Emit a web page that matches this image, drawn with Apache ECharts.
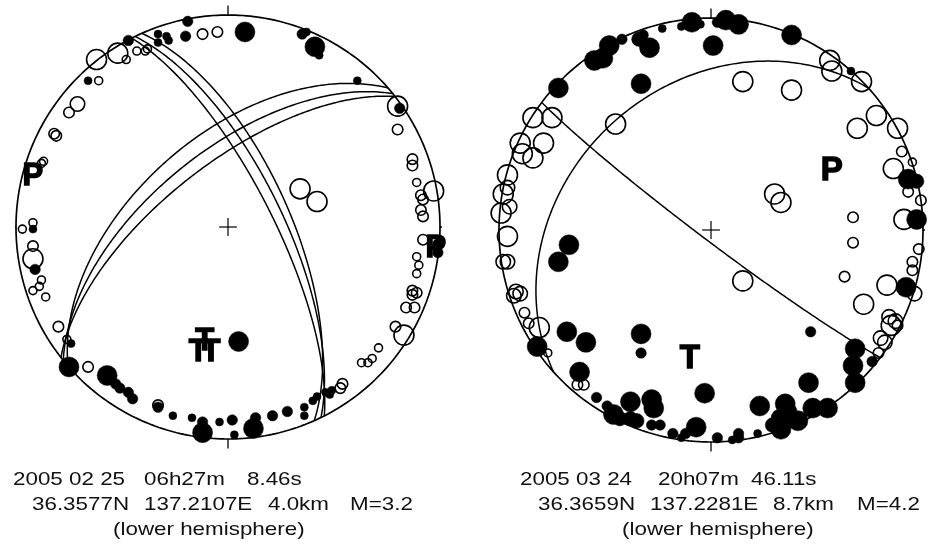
<!DOCTYPE html>
<html>
<head>
<meta charset="utf-8">
<script src="https://cdn.jsdelivr.net/npm/echarts@6/dist/echarts.min.js"></script>
<style>
  html, body { margin: 0; padding: 0; background: #ffffff; }
  #chart { width: 929px; height: 544px; }
</style>
</head>
<body>
<div id="chart"></div>
<script>
// ---- Event 1: 2005-02-25 (coordinates in a frame where the focal sphere radius = 100; x east, y north; third value = amplitude class)
const ev1Dilatation = [
  [-12,91,2],[-5,92,2],[-52,82,4],[-62,79,4],[-48,79,1],[-43,83,1],[-39,83,1],[-38,84,1],[-61,69,1],
  [-71,58,3],[-75,54,2],[-82,44,2],[-81,43,2],[-88,30,1],[-87,31,1],[-92,2,1],[-97,-1,1],[-92,-9,2],
  [-92,-15,4],[-88,-25,1],[-89,-28,1],[-92,-30,1],[-86,-33,1],[-80,-47,2],[-76,-53,1],[-66,-66,2],
  [-33,-84,2],[54,-74,2],[53,-76,2],[63,-64,1],[66,-64,1],[68,-62,1],[71,-57,1],[79,-47,2],[83,-51,4],
  [84,-38,2],[88,-38,2],[87,-30,2],[87,-32,2],[89,-31,2],[89,-22,1],[90,-18,1],[89,-14,1],[92,-6,2],
  [80,57,4],[80,46,2],[87,32,2],[87,29,2],[89,21,1],[97,17,4],[91,15,2],[92,13,2],[91,8,2],[92,5,2],
  [34,18,4],[42,12,4]
];
const ev1Compression = [
  [-19,97,2],[-33,91,1],[-29,90,1],[-28,88,1],[-33,87,1],[-20,90,2],[-47,88,2],[-66,69,1],[-92,-1,1],
  [-91,-20,2],[-74,-55,1],[-75,-66,4],[-57,-70,4],[-53,-74,2],[-51,-76,2],[-47,-78,2],[-45,-81,2],
  [-33,-85,2],[-26,-89,1],[-17,-90,1],[-12,-92,2],[-4,-92,1],[-12,-97,4],[2,-91,2],[3,-98,1],[12,-95,4],
  [13,-90,2],[21,-89,2],[28,-87,2],[36,-89,1],[36,-85,1],[40,-82,1],[42,-80,1],[46,-78,1],[49,-77,1],
  [48,-79,1],[5,-54,4],[99,-8,2],[99,-12,2],[8,92,4],[35,91,2],[37,92,1],[41,85,4],[43,81,1],[61,69,1],
  [81,56,2]
];
// nodal planes (strike / dip, degrees)
const ev1Strike = [333, 334, 336, 229, 231, 232];
const ev1Dip    = [73, 69, 66, 55, 61, 66];
// P / T axes
const ev1AxisNames = ['P', 'P', 'T', 'T', 'T'];
const ev1AxisPos   = [[-92,24],[98,-10],[-11,-54],[-14,-59],[-8,-59]];
const ev1Caption = [
  ['2005 02 25', '06h27m', '8.46s'],
  ['36.3577N', '137.2107E', '4.0km', 'M=3.2'],
  ['(lower hemisphere)']
];

// ---- Event 2: 2005-03-24
const ev2Dilatation = [
  [-45,50,4],[-84,53,4],[-75,53,4],[-90,41,4],[-79,41,4],[-84,34,4],[-89,36,4],[-96,26,4],[-96,20,3],
  [-98,17,4],[-95,11,3],[-99,8,4],[-96,-3,4],[-98,-15,3],[-96,-15,3],[-92,-29,3],[-90,-30,3],[-93,-31,3],
  [-88,-39,2],[-86,-44,2],[-81,-46,4],[-77,-58,1],[-63,-73,2],[-60,-73,2],[15,70,4],[38,66,4],[56,80,4],
  [57,75,4],[71,70,4],[78,54,4],[69,48,4],[88,48,4],[90,37,2],[86,29,4],[95,32,1],[93,18,2],[99,14,2],
  [30,17,4],[33,13,4],[67,6,2],[91,5,4],[67,-6,2],[63,-22,2],[15,-24,4],[83,-26,4],[96,-30,3],[95,-19,2],
  [95,-15,2],[98,-9,2],[72,-35,4],[84,-41,3],[87,-43,3],[88,-45,2],[85,-45,4],[80,-51,3],[82,-53,3],
  [79,-58,2]
];
const ev2Compression = [
  [-9,98,4],[-23,95,1],[-14,96,1],[-5,97,1],[1,87,4],[-29,86,4],[-34,90,3],[-32,92,2],[-42,90,2],
  [-48,87,4],[-55,80,4],[-51,81,4],[-33,69,4],[-72,67,4],[7,99,4],[13,97,4],[3,98,2],[38,92,4],[66,75,1],
  [93,24,4],[97,23,3],[97,5,4],[92,-27,4],[-67,-7,4],[-72,-15,4],[-82,-55,4],[-68,-48,4],[-59,-53,4],
  [-33,-49,4],[-33,-58,2],[-62,-67,4],[-3,-77,4],[-54,-79,2],[-49,-83,2],[-46,-87,4],[-38,-81,4],
  [-28,-80,4],[-27,-84,4],[-38,-89,3],[-35,-90,3],[-43,-89,3],[-28,-92,2],[-24,-92,2],[-18,-96,2],
  [-14,-98,1],[-12,-96,2],[-7,-93,4],[47,-48,2],[68,-56,4],[67,-64,4],[68,-72,4],[76,-62,2],[46,-72,4],
  [23,-83,4],[35,-82,4],[36,-86,4],[48,-84,4],[55,-84,4],[33,-89,4],[41,-90,4],[33,-94,4],[29,-92,3],
  [22,-96,1],[13,-96,2],[13,-98,2],[3,-98,2],[10,-99,1]
];
const ev2Strike = [127, 228];
const ev2Dip    = [86, 32];
const ev2AxisNames = ['P', 'T'];
const ev2AxisPos   = [[57,28],[-10,-61]];
const ev2Caption = [
  ['2005 03 24', '20h07m', '46.11s'],
  ['36.3659N', '137.2281E', '8.7km', 'M=4.2'],
  ['(lower hemisphere)']
];

// ---- drawing helpers
const DIAM = {1: 8, 2: 10.5, 3: 14.5, 4: 20};
const D2R = Math.PI / 180;

// Lower-hemisphere equal-area (Schmidt) trace of a plane given strike/dip
function greatCircle(strike, dip) {
  const s = strike * D2R, d = dip * D2R;
  const S = [Math.cos(s), Math.sin(s), 0];
  const Dv = [-Math.cos(d) * Math.sin(s), Math.cos(d) * Math.cos(s), Math.sin(d)];
  const pts = [];
  for (let l = 0; l <= 180; l += 1) {
    const lr = l * D2R;
    const n = Math.cos(lr) * S[0] + Math.sin(lr) * Dv[0];
    const e = Math.cos(lr) * S[1] + Math.sin(lr) * Dv[1];
    const dn = Math.min(1, Math.max(-1, Math.cos(lr) * S[2] + Math.sin(lr) * Dv[2]));
    const plunge = Math.asin(dn);
    const trend = Math.atan2(e, n);
    const r = Math.SQRT2 * Math.sin((Math.PI / 2 - plunge) / 2) * 100;
    pts.push([r * Math.sin(trend), r * Math.cos(trend)]);
  }
  return pts;
}

function lineSeries(gi, data, width) {
  return {
    type: 'line', xAxisIndex: gi, yAxisIndex: gi, data: data, showSymbol: false,
    symbol: 'none', clip: false, silent: true, z: 2,
    lineStyle: { color: '#000', width: width, opacity: 1 }
  };
}

function netSeries(gi, dil, comp, strikes, dips, names, pos, fontSize) {
  const out = [];
  // primitive circle
  const rim = [];
  for (let a = 0; a <= 360; a += 1) rim.push([100 * Math.sin(a * D2R), 100 * Math.cos(a * D2R)]);
  out.push(lineSeries(gi, rim, 1.7));
  // cardinal ticks and centre cross
  [0, 90, 180, 270].forEach(function (a) {
    const sa = Math.sin(a * D2R), ca = Math.cos(a * D2R);
    out.push(lineSeries(gi, [[100 * sa, 100 * ca], [104.5 * sa, 104.5 * ca]], 1.3));
  });
  out.push(lineSeries(gi, [[-4.2, 0], [4.2, 0]], 1.2));
  out.push(lineSeries(gi, [[0, -4.2], [0, 4.2]], 1.2));
  // nodal planes
  for (let i = 0; i < strikes.length; i++) out.push(lineSeries(gi, greatCircle(strikes[i], dips[i]), 1.5));
  // dilatational first motions (open)
  out.push({
    type: 'scatter', xAxisIndex: gi, yAxisIndex: gi, data: dil, clip: false, silent: true, z: 3,
    symbol: 'circle', symbolSize: function (v) { return DIAM[v[2]]; },
    itemStyle: { color: 'rgba(0,0,0,0)', borderColor: '#000', borderWidth: 1.6, opacity: 1 }
  });
  // compressional first motions (filled)
  out.push({
    type: 'scatter', xAxisIndex: gi, yAxisIndex: gi, data: comp, clip: false, silent: true, z: 4,
    symbol: 'circle', symbolSize: function (v) { return DIAM[v[2]]; },
    itemStyle: { color: '#000', borderColor: '#000', borderWidth: 0.5, opacity: 1 }
  });
  // P / T axis letters
  out.push({
    type: 'scatter', xAxisIndex: gi, yAxisIndex: gi, clip: false, silent: true, z: 5,
    symbolSize: 1, itemStyle: { color: 'rgba(0,0,0,0)', opacity: 1 },
    data: names.map(function (n, i) { return { name: n, value: pos[i] }; }),
    label: {
      show: true, position: 'inside', formatter: '{b}', color: '#000', opacity: 1,
      fontFamily: '"Liberation Sans", Arial, sans-serif', fontWeight: 'bold', fontSize: fontSize,
      textBorderColor: '#000', textBorderWidth: 1.4
    },
    labelLayout: { hideOverlap: false }
  });
  return out;
}

// caption placement: [x of each segment], line centre y
function captionGraphics(lines, xs, ys) {
  const g = [];
  lines.forEach(function (segs, li) {
    segs.forEach(function (t, si) {
      g.push({
        type: 'text', x: xs[li][si], y: ys[li], scaleX: 1.21, scaleY: 1,
        style: {
          text: t, fill: '#111', textAlign: 'left', textVerticalAlign: 'middle',
          font: '18.5px "Liberation Sans", Arial, sans-serif'
        }
      });
    });
  });
  return g;
}

const chart = echarts.init(document.getElementById('chart'), null, { renderer: 'canvas' });
const axisBase = { type: 'value', min: -100, max: 100, show: false };
chart.setOption({
  animation: false,
  backgroundColor: '#ffffff',
  grid: [
    { left: 16, top: 15, width: 424, height: 424 },
    { left: 499, top: 18, width: 424, height: 424 }
  ],
  xAxis: [Object.assign({ gridIndex: 0 }, axisBase), Object.assign({ gridIndex: 1 }, axisBase)],
  yAxis: [Object.assign({ gridIndex: 0 }, axisBase), Object.assign({ gridIndex: 1 }, axisBase)],
  series: [].concat(
    netSeries(0, ev1Dilatation, ev1Compression, ev1Strike, ev1Dip, ev1AxisNames, ev1AxisPos, 31),
    netSeries(1, ev2Dilatation, ev2Compression, ev2Strike, ev2Dip, ev2AxisNames, ev2AxisPos, 33)
  ),
  graphic: [].concat(
    captionGraphics(ev1Caption, [[13, 144, 247], [32, 144, 268, 350], [113]], [480, 505, 530]),
    captionGraphics(ev2Caption, [[520, 658, 751], [538, 650, 773, 857], [622]], [480, 505, 530])
  )
});
</script>
</body>
</html>
